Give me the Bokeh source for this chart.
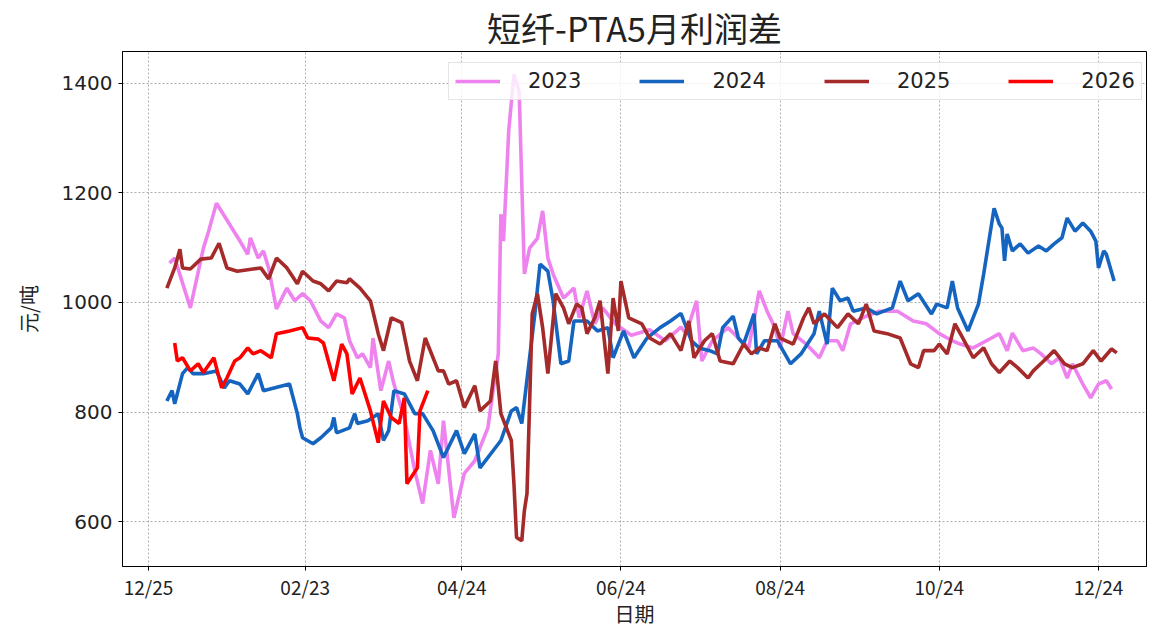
from bokeh.plotting import figure
from bokeh.models import FixedTicker, Range1d
from bokeh.embed import file_html
from bokeh.resources import INLINE

# x = days counted from 12/25 of previous year
days_2023 = [8, 10, 16, 21, 23, 26, 35, 38, 39, 42, 44, 46, 49, 53, 56, 59, 62, 66, 69, 72, 75, 77, 80, 82, 85, 86, 89, 92, 94, 98,
             102, 105, 108, 111, 113, 117, 121, 125, 130, 134, 135, 136, 138, 140, 142, 144, 146, 149, 151, 153, 155, 159, 163, 165,
             168, 171, 174, 179, 185, 192, 198, 204, 206, 210, 212, 216, 222, 227, 230, 234, 237, 240, 242, 245, 247, 252, 257, 260,
             264, 266, 269, 275, 280, 287, 293, 298, 303, 308, 311, 316, 323, 326, 329, 331, 335, 339, 342, 346, 349, 352, 354, 358,
             361, 364, 367, 369]
vals_2023 = [1072, 1081, 990, 1099, 1130, 1181, 1112, 1088, 1118, 1081, 1094, 1063, 988, 1026, 1003, 1016, 1003, 966, 954, 979,
             972, 930, 899, 906, 881, 935, 839, 893, 851, 790, 693, 633, 730, 669, 784, 607, 688, 711, 771, 906, 1161, 1112, 1313,
             1416, 1385, 1052, 1099, 1117, 1167, 1081, 1052, 1008, 1026, 972, 1021, 961, 990, 960, 940, 950, 930, 955, 943, 1003,
             893, 930, 954, 930, 917, 1021, 984, 954, 917, 984, 943, 924, 899, 930, 930, 912, 961, 975, 984, 984, 966, 961, 943,
             930, 924, 917, 935, 943, 912, 944, 912, 917, 906, 888, 899, 862, 888, 851, 826, 851, 857, 842]

days_2024 = [7, 9, 10, 13, 15, 17, 21, 26, 29, 31, 35, 38, 42, 44, 54, 57, 58, 59, 63, 66, 70, 71, 72, 77, 79, 80, 84, 88, 90, 92,
             94, 98, 102, 105, 109, 113, 118, 121, 125, 127, 135, 139, 141, 143, 148, 150, 153, 155, 158, 161, 163, 168, 172, 176,
             178, 182, 186, 191, 196, 200, 204, 208, 211, 215, 218, 220, 224, 226, 228, 232, 233, 236, 241, 246, 250, 255, 257, 260,
             262, 265, 268, 270, 275, 279, 285, 288, 291, 295, 300, 302, 306, 308, 310, 314, 318, 320, 322, 324, 326, 327, 328, 329,
             331, 334, 337, 341, 344, 347, 350, 352, 355, 358, 361, 363, 364, 366, 367, 370]
vals_2024 = [820, 839, 815, 870, 881, 870, 870, 875, 844, 857, 851, 833, 870, 839, 851, 797, 771, 753, 742, 753, 771, 790, 762,
             771, 797, 779, 784, 797, 748, 766, 839, 833, 797, 797, 766, 717, 766, 724, 760, 698, 748, 802, 808, 779, 979, 1070,
             1057, 1003, 888, 893, 966, 966, 948, 954, 899, 948, 899, 935, 954, 966, 980, 930, 917, 912, 906, 954, 975, 935, 924,
             979, 906, 930, 930, 888, 906, 943, 984, 924, 1026, 1003, 1008, 984, 990, 979, 990, 1039, 1003, 1016, 979, 997, 990,
             1039, 990, 948, 997, 1052, 1112, 1172, 1143, 1136, 1076, 1125, 1094, 1107, 1090, 1103, 1094, 1107, 1118, 1154, 1130,
             1145, 1130, 1112, 1063, 1094, 1088, 1039]

days_2025 = [7, 10, 12, 13, 16, 20, 24, 27, 30, 34, 40, 43, 46, 49, 53, 57, 59, 63, 66, 69, 72, 76, 77, 81, 85, 88, 90, 93, 97,
             100, 103, 106, 111, 113, 115, 118, 121, 125, 127, 131, 133, 135, 139, 140, 141, 143, 144, 145, 147, 149, 151, 153, 156,
             159, 161, 164, 166, 168, 171, 173, 176, 178, 180, 181, 184, 189, 192, 196, 200, 204, 207, 209, 213, 216, 219, 224, 228,
             231, 234, 237, 240, 242, 247, 251, 253, 255, 259, 264, 268, 272, 275, 278, 283, 288, 292, 295, 297, 301, 303, 306, 309,
             312, 316, 320, 323, 326, 330, 333, 337, 339, 343, 347, 351, 354, 358, 362, 365, 369, 371]
vals_2025 = [1026, 1063, 1097, 1063, 1061, 1079, 1081, 1108, 1063, 1057, 1061, 1063, 1043, 1081, 1063, 1034, 1057, 1039, 1034,
             1021, 1039, 1036, 1043, 1026, 1003, 943, 912, 972, 963, 893, 857, 935, 875, 875, 851, 857, 808, 848, 802, 820, 893,
             797, 748, 669, 571, 565, 620, 651, 979, 1016, 954, 870, 1016, 990, 961, 997, 990, 943, 972, 1003, 870, 1008, 948,
             1039, 972, 961, 935, 924, 943, 912, 966, 899, 930, 943, 893, 888, 924, 906, 917, 912, 961, 935, 924, 972, 990, 961,
             979, 954, 979, 961, 997, 948, 943, 935, 888, 881, 912, 912, 924, 906, 961, 935, 899, 917, 888, 872, 893, 881, 862,
             875, 893, 912, 888, 881, 888, 912, 893, 915, 908]

days_2026 = [10, 11, 13, 16, 19, 21, 25, 26, 28, 30, 33, 35, 38, 40, 43, 47, 49, 54, 59, 61, 65, 67, 71, 74, 76, 78, 81, 85, 88,
             90, 93, 96, 98, 99, 103, 104, 107]
vals_2026 = [926, 893, 899, 875, 888, 872, 899, 881, 844, 862, 893, 899, 917, 906, 912, 899, 943, 948, 954, 935, 933, 926, 857,
             924, 906, 833, 862, 802, 744, 820, 790, 779, 826, 669, 698, 802, 839]

series_names = ["2023", "2024", "2025", "2026"]
series_colors = ["#EE82EE", "#1565C0", "#A52A2A", "#FF0000"]

tick_days = [0, 60, 120, 181, 242, 303, 364]
tick_labels = ["12/25", "02/23", "04/24", "06/24", "08/24", "10/24", "12/24"]
y_ticks = [600, 800, 1000, 1200, 1400]

FONT = "Noto Sans CJK SC"

p = figure(width=1156, height=633, output_backend="svg", toolbar_location=None,
           x_range=Range1d(-10, 382.4), y_range=Range1d(518, 1458),
           min_border_left=122, min_border_right=10, min_border_top=50, min_border_bottom=67)

p.title.text = "短纤-PTA5月利润差"
p.title.align = "center"
p.title.text_font = FONT
p.title.text_font_size = "34px"
p.title.text_font_style = "normal"
p.title.text_color = "#222222"
p.title.standoff = 0

data = [(days_2023, vals_2023), (days_2024, vals_2024), (days_2025, vals_2025), (days_2026, vals_2026)]
for (xs, ys), name, col in zip(data, series_names, series_colors):
    p.line(xs, ys, line_color=col, line_width=3.6, legend_label=name)

p.xaxis.ticker = FixedTicker(ticks=tick_days)
p.xaxis.major_label_overrides = {d: l for d, l in zip(tick_days, tick_labels)}
p.yaxis.ticker = FixedTicker(ticks=y_ticks)
p.xaxis.axis_label = "日期"
p.yaxis.axis_label = "元/吨"

for ax in (p.xaxis[0], p.yaxis[0]):
    ax.axis_label_text_font = FONT
    ax.axis_label_text_font_size = "20px"
    ax.axis_label_text_font_style = "normal"
    ax.axis_label_text_color = "#222222"
    ax.major_label_text_color = "#222222"
    ax.axis_line_color = "black"
    ax.major_tick_line_color = "black"
    ax.major_tick_out = 4
    ax.major_tick_in = 0
    ax.minor_tick_line_color = None
p.xaxis.major_label_text_font = FONT
p.xaxis.major_label_text_font_size = "19px"
p.yaxis.major_label_text_font = "DejaVu Sans"
p.yaxis.major_label_text_font_size = "20px"
p.yaxis.major_label_orientation = "horizontal"
p.yaxis.axis_label_standoff = 16
p.yaxis.major_label_standoff = 6
p.xaxis.axis_label_standoff = -4
p.xaxis.major_label_standoff = 2

p.outline_line_color = "black"
p.outline_line_alpha = 1.0
p.outline_line_width = 1

p.xgrid.grid_line_color = "#999999"
p.ygrid.grid_line_color = "#999999"
p.xgrid.grid_line_dash = "2 2"
p.ygrid.grid_line_dash = "2 2"
p.xgrid.grid_line_width = 0.8
p.ygrid.grid_line_width = 0.8

lg = p.legend[0]
lg.orientation = "horizontal"
lg.location = (326, 466)
lg.label_text_font = "DejaVu Sans"
lg.label_text_font_size = "21px"
lg.label_text_color = "#222222"
lg.glyph_width = 45
lg.label_standoff = 28
lg.spacing = 58
lg.padding = 6
lg.margin = 0
lg.border_line_color = "#cccccc"
lg.background_fill_alpha = 0.8

open("out.html", "w").write(file_html(p, INLINE))
